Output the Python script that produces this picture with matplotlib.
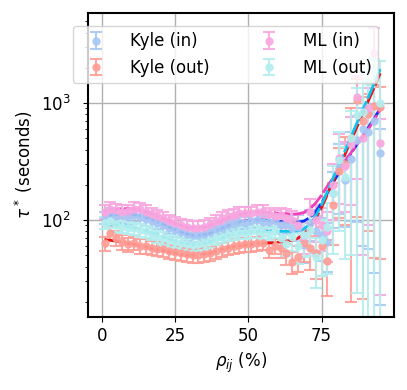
import numpy as np
import matplotlib
matplotlib.use("Agg")
import matplotlib.pyplot as plt

# correlation (%) of the bins
rho = [1, 3, 5, 7, 9, 11, 13, 15, 17, 19, 21, 23, 25, 27, 29, 31, 33, 35, 37, 39, 41, 43, 45, 47,
       49, 51, 53, 55, 57, 59, 61, 63, 65, 67, 69, 71, 73, 75, 77, 79, 81, 83, 85, 87, 89, 91, 93, 95]

# measured tau* (seconds)
kyle_in = [105, 112, 108, 110, 106, 110, 106, 102, 98, 95, 90, 86, 82, 79, 76, 74, 74, 76, 79, 83, 86, 90, 92, 96,
           94, 98, 100, 97, 96, 100, 90, 92, 85, 88, 61, 94, 80, 75, 65, 170, 280, 220, 330, 480, 600, 560, 700, 373]
kyle_out = [63, 78, 70, 65, 62, 64, 60, 60, 58, 57, 56, 54, 53, 52, 51, 50, 50, 51, 52, 54, 56, 58, 60, 61,
            62, 62, 63, 64, 55, 60, 58, 52, 44, 48, 63, 58, 52, 60, 45, 135, 260, 300, 500, 1060, 700, 800, 950, 920]
ml_in = [118, 125, 122, 118, 120, 125, 124, 118, 112, 108, 104, 98, 94, 90, 88, 86, 86, 88, 92, 98, 104, 108, 110, 114,
         115, 115, 118, 120, 112, 108, 110, 105, 100, 90, 73, 117, 100, 90, 80, 200, 340, 290, 450, 1130, 500, 900, 2700, 455]
ml_out = [95, 98, 90, 88, 86, 85, 82, 80, 76, 72, 70, 67, 65, 63, 62, 61, 62, 63, 66, 70, 72, 75, 76, 78,
          78, 80, 80, 78, 76, 80, 70, 62, 72, 60, 74, 82, 48, 67, 87, 170, 325, 233, 500, 790, 840, 1500, 1900, 1000]

# relative errors, lower / upper (fraction of value)
kyle_in_lo = [0.12] * 30 + [.15, .18, .2, .25, .3, .3, .35, .4, .45, .5, .6, .6, .7, .8, .9, .9, .95, .95]
kyle_in_hi = [0.12] * 30 + [.15, .18, .2, .25, .3, .3, .35, .4, .45, .5, .6, .6, .7, .6, .5, .5, .4, .6]
kyle_out_lo = [0.14] * 30 + [.18, .2, .22, .25, .3, .35, .4, .45, .5, .55, .6, .7, .96, .9, .97, .9, .95, .95]
kyle_out_hi = [0.14] * 30 + [.18, .2, .22, .25, .3, .35, .4, .45, .5, .55, .6, .7, .8, .5, .6, .5, .5, .5]
ml_in_lo = [0.13] * 30 + [.16, .18, .2, .25, .3, .3, .35, .4, .45, .5, .6, .6, .7, .8, .9, .9, .7, .95]
ml_in_hi = [0.13] * 30 + [.16, .18, .2, .25, .3, .3, .35, .4, .45, .5, .6, .6, .7, .5, .6, .5, .63, .6]
ml_out_lo = [0.12] * 30 + [.16, .2, .25, .3, .35, .4, .45, .5, .6, .7, .75, .8, .9, .97, 1, 1, 1, 1]
ml_out_hi = [0.12] * 30 + [.16, .2, .25, .3, .35, .4, .45, .5, .6, .7, .75, .8, .7, .7, 1.2, .55, .25, 1.3]

# fitted curves
kyle_in_fit = [108, 110, 111, 112, 112, 111, 109, 106, 102, 97, 92, 87, 83, 79, 76, 74, 74, 75, 77, 81, 85, 89, 93, 96,
               98, 99, 100, 100, 99, 98, 97, 96, 96, 96, 98, 105, 118, 140, 170, 210, 255, 310, 370, 440, 520, 620, 740, 900]
kyle_out_fit = [68, 67, 66, 65, 63, 62, 60, 59, 57, 56, 55, 53, 52, 51, 50, 50, 50, 51, 52, 54, 56, 58, 59, 60,
                61, 62, 63, 63, 64, 64, 65, 66, 67, 70, 76, 86, 103, 128, 165, 215, 280, 365, 475, 620, 810, 1050, 1370, 1800]
ml_in_fit = [120, 122, 124, 125, 125, 124, 122, 118, 113, 108, 103, 98, 94, 90, 87, 86, 86, 87, 90, 94, 99, 104, 108, 111,
             114, 116, 117, 117, 116, 115, 114, 113, 112, 113, 116, 124, 140, 163, 195, 230, 272, 320, 375, 440, 515, 600, 720, 880]
ml_out_fit = [93, 92, 91, 90, 88, 86, 84, 81, 78, 75, 72, 69, 66, 64, 63, 62, 62, 63, 65, 67, 70, 73, 75, 77,
              78, 79, 80, 80, 80, 80, 80, 80, 80, 81, 84, 92, 108, 135, 175, 230, 300, 390, 510, 670, 870, 1130, 1480, 1950]

labels = ["Kyle (in)", "Kyle (out)", "ML (in)", "ML (out)"]
series = [kyle_in, kyle_out, ml_in, ml_out]
lows = [kyle_in_lo, kyle_out_lo, ml_in_lo, ml_out_lo]
highs = [kyle_in_hi, kyle_out_hi, ml_in_hi, ml_out_hi]
fits = [kyle_in_fit, kyle_out_fit, ml_in_fit, ml_out_fit]
pt_colors = ["#a8c8f4", "#ff9e96", "#f8a8e0", "#b4eeee"]
fit_colors = ["#1030f0", "#ee1010", "#f040b8", "#10c4ec"]

fig = plt.figure(figsize=(4.07, 3.9), dpi=100)
ax = fig.add_axes([0.216, 0.187, 0.752, 0.78])

for y, lo, hi, lab, c in zip(series, lows, highs, labels, pt_colors):
    y = np.array(y, dtype=float)
    yerr = [y * np.array(lo), y * np.array(hi)]
    ax.errorbar(rho, y, yerr=yerr, fmt="o", color=c, ms=5, capsize=4,
                elinewidth=1.5, capthick=1.5, label=lab, alpha=0.9)

for f, c in zip(fits, fit_colors):
    ax.plot(rho, f, "--", color=c, lw=2, dashes=(6, 1))

ax.set_yscale("log")
ax.set_xlim(-4.7, 99.7)
ax.set_ylim(14.8, 5900)
ax.set_xticks([0, 25, 50, 75])
ax.grid(True, which="major", color="#b0b0b0", lw=1)
ax.set_axisbelow(True)
ax.tick_params(labelsize=12)
ax.tick_params(axis="y", which="major", pad=9)
for s in ax.spines.values():
    s.set_linewidth(1.5)
ax.set_xlabel(r"$\rho_{ij}$ (%)", fontsize=12)
ax.set_ylabel(r"$\tau^*$ (seconds)", fontsize=12)
ax.legend(ncol=2, loc="upper center", bbox_to_anchor=(0.45, 0.985), fontsize=12,
          handletextpad=1.0, columnspacing=2.6)

fig.savefig("out.png", dpi=100)
